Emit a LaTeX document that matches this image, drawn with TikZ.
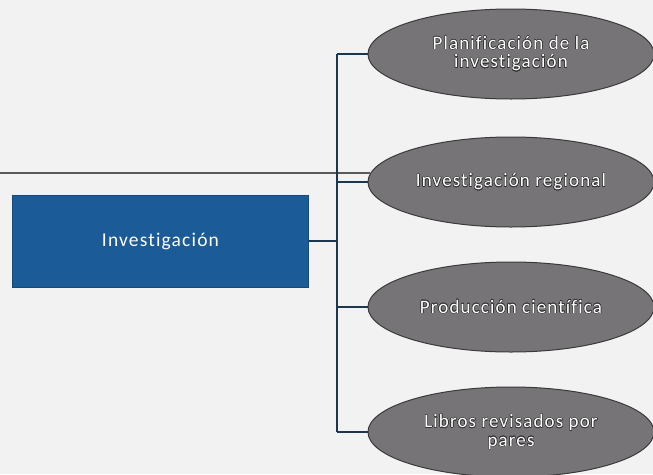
\documentclass[tikz,border=0pt]{standalone}
\usepackage{fontspec}
\setmainfont{Carlito}
\newfontfamily\labelfont[LetterSpace=6,Ligatures={NoCommon}]{Carlito}
\usepackage{contour}
\contourlength{0.5pt}
\usetikzlibrary{shapes.geometric}
\definecolor{pagebg}{HTML}{F2F2F2}
\definecolor{boxblue}{HTML}{1B5B98}
\definecolor{ovalgray}{HTML}{777477}
\definecolor{ovaledge}{HTML}{3A3A3A}
\definecolor{wireblue}{HTML}{1E3550}
\tikzset{
  mainbox/.style={rectangle, fill=boxblue, draw=boxblue!80!black, line width=0.6pt,
    minimum width=296pt, minimum height=92pt, inner sep=0pt,
    text=white, font=\labelfont\fontsize{19.5}{21}\selectfont},
  oval/.style={ellipse, fill=ovalgray, draw=ovaledge, line width=1pt,
    minimum width=286pt, minimum height=90pt, inner sep=0pt, align=center,
    text=white, font=\labelfont\fontsize{19}{18.5}\selectfont},
  wire/.style={draw=wireblue, line width=1.3pt},
  rule/.style={draw=black!65, line width=1.3pt}
}
\newcommand{\ovaltext}[1]{\contour{black!80}{#1}}
\begin{document}
\begin{tikzpicture}[x=1pt,y=-1pt]
  % page and frame
  \fill[pagebg] (0,0) rectangle (653,474);
  \useasboundingbox (0,0) rectangle (653,474);
  \clip (0,0) rectangle (653,474);

  % horizontal rule running across the page
  \coordinate (ruleL) at (0,173);
  \coordinate (ruleR) at (370,173);
  \draw[rule] (ruleL) -- (ruleR);

  % central box
  \node[mainbox] (inv) at (160.5,241) {Investigación};

  % four topics
  \node[oval] (plan) at (511,54)  {\ovaltext{Planificación de la}\\\ovaltext{investigación}};
  \node[oval] (reg)  at (511,182) {\ovaltext{Investigación regional}};
  \node[oval] (prod) at (511,307) {\ovaltext{Producción científica}};
  \node[oval] (lib)  at (511,432) {\ovaltext{Libros revisados por}\\\ovaltext{pares}};

  % bracket connector
  \coordinate (spineTop) at (337,54);
  \coordinate (spineBot) at (337,432);
  \draw[wire] (spineTop) -- (spineBot);
  \draw[wire] (inv.east) -- (inv.east -| spineTop);
  \draw[wire] (plan.west -| spineTop) -- (plan.west);
  \draw[wire] (reg.west -| spineTop) -- (reg.west);
  \draw[wire] (prod.west -| spineTop) -- (prod.west);
  \draw[wire] (lib.west -| spineTop) -- (lib.west);
\end{tikzpicture}
\end{document}
